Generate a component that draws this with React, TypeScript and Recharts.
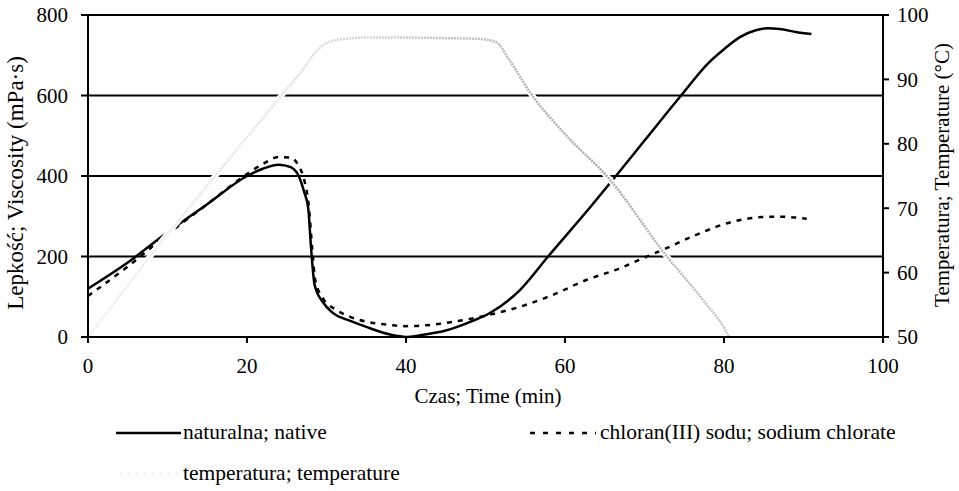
import React from "react";
import { ComposedChart, Line, XAxis, YAxis, CartesianGrid } from "recharts";

// native starch: time (min) / viscosity (mPa·s)
const nativeTime = [0, 5, 10, 15, 20, 22, 24, 25.5, 26.5, 27.2, 27.7, 28.1, 28.5, 29.6, 30.8, 33, 35, 38, 40, 41.7, 45, 48, 50.5, 54.3, 58, 63.4, 66.4, 70, 74.6, 78, 80, 82, 84, 85.5, 87, 89, 91];
const nativeVisc = [120, 185, 260, 330, 400, 418, 428, 422, 400, 360, 320, 210, 130, 85, 60, 40, 25, 6, 0, 4, 16, 37, 59, 116, 203, 328, 400, 488, 600, 680, 715, 745, 762, 767, 765, 758, 753];

// sodium chlorate
const chlorTime = [0, 5, 10, 15, 20, 22, 24, 25.5, 26.5, 27.2, 27.8, 28.2, 28.6, 29.6, 31, 33, 35, 38, 40, 43, 46, 50, 54.3, 58.4, 62.6, 66.8, 70.2, 72.7, 76.4, 81, 84.8, 86.9, 90.4];
const chlorVisc = [102, 175, 255, 330, 405, 430, 447, 446, 425, 390, 320, 220, 140, 95, 70, 50, 38, 30, 27, 30, 38, 53, 75, 104, 141, 170, 199, 220, 253, 286, 298, 299, 294];

// temperature (°C)
const tempTime = [0, 5, 10, 15, 20, 24.2, 27, 28.8, 30.8, 35, 40, 45, 49, 51.3, 53, 55.7, 60, 65.6, 72.5, 77.7, 80.2, 80.6];
const tempVal = [50, 58, 66, 73.5, 81, 87.3, 91.5, 94.5, 96, 96.5, 96.5, 96.4, 96.3, 95.8, 93, 87.8, 81.5, 74.5, 63, 55.2, 51, 50];

const timeTicks = [0, 20, 40, 60, 80, 100];
const viscTicks = [0, 200, 400, 600, 800];
const tempTicks = [50, 60, 70, 80, 90, 100];

const nativeData = nativeTime.map((t, i) => ({ t, v: nativeVisc[i] }));
const chlorData = chlorTime.map((t, i) => ({ t, v: chlorVisc[i] }));
const tempData = tempTime.map((t, i) => ({ t, v: tempVal[i] }));

const FONT = "'Liberation Serif', serif";
const tickStyle = { fill: "#000", fontSize: 21, fontFamily: FONT };

export default function App() {
  return (
    <div style={{ position: "absolute", left: 0, top: 0, width: 959, height: 491, background: "#fff", fontFamily: FONT, color: "#000" }}>
      <svg width={0} height={0} style={{ position: "absolute" }}>
        <defs>
          <linearGradient id="tempGrad" x1="0" y1="0" x2="1" y2="0">
            <stop offset="0" stopColor="#eeeeee" />
            <stop offset="0.3" stopColor="#e4e4e4" />
            <stop offset="0.55" stopColor="#c4c4c4" />
            <stop offset="0.8" stopColor="#a8a8a8" />
            <stop offset="1" stopColor="#c8c8c8" />
          </linearGradient>
        </defs>
      </svg>
      <ComposedChart
        width={959}
        height={491}
        margin={{ top: 15, right: 26, left: 27, bottom: 84 }}
      >
        <CartesianGrid yAxisId="left" vertical={false} stroke="#000" strokeWidth={2} />
        <XAxis
          type="number"
          dataKey="t"
          domain={[0, 100]}
          ticks={timeTicks}
          height={70}
          stroke="#000"
          strokeWidth={2}
          tick={tickStyle}
          tickSize={6}
          tickMargin={15}
          allowDuplicatedCategory={false}
        />
        <YAxis
          yAxisId="left"
          domain={[0, 800]}
          ticks={viscTicks}
          width={61}
          stroke="#000"
          strokeWidth={2}
          tick={tickStyle}
          tickSize={7}
          tickMargin={13}
        />
        <YAxis
          yAxisId="right"
          orientation="right"
          domain={[50, 100]}
          ticks={tempTicks}
          width={50}
          stroke="#000"
          strokeWidth={2}
          tick={tickStyle}
          tickSize={6}
          tickMargin={8}
        />
        <Line
          yAxisId="left"
          data={nativeData}
          dataKey="v"
          type="monotone"
          stroke="#000"
          strokeWidth={2.5}
          dot={false}
          isAnimationActive={false}
        />
        <Line
          yAxisId="left"
          data={chlorData}
          dataKey="v"
          type="monotone"
          stroke="#000"
          strokeWidth={2.5}
          strokeDasharray="5 6"
          dot={false}
          isAnimationActive={false}
        />
        {/* white halo: the temperature trace cuts through the black lines */}
        <Line
          yAxisId="right"
          data={tempData}
          dataKey="v"
          type="monotone"
          stroke="#fff"
          strokeWidth={6}
          dot={false}
          isAnimationActive={false}
        />
        <Line
          yAxisId="right"
          data={tempData}
          dataKey="v"
          type="monotone"
          stroke="url(#tempGrad)"
          strokeWidth={2.5}
          strokeDasharray="2 1"
          dot={false}
          isAnimationActive={false}
        />
      </ComposedChart>

      {/* axis titles */}
      <div style={{ position: "absolute", left: 488, top: 384, transform: "translateX(-50%)", fontSize: 21, whiteSpace: "nowrap" }}>
        Czas; Time (min)
      </div>
      <div style={{ position: "absolute", left: 16, top: 183, transform: "translate(-50%, -50%) rotate(-90deg)", fontSize: 23, whiteSpace: "nowrap" }}>
        Lepkość; Viscosity (mPa·s)
      </div>
      <div style={{ position: "absolute", left: 942, top: 175, transform: "translate(-50%, -50%) rotate(-90deg)", fontSize: 21, whiteSpace: "nowrap" }}>
        Temperatura; Temperature (°C)
      </div>

      {/* legend */}
      <svg style={{ position: "absolute", left: 0, top: 0 }} width={959} height={491}>
        <line x1={116} x2={181} y1={433} y2={433} stroke="#000" strokeWidth={2.5} />
        <line x1={530} x2={596} y1={433} y2={433} stroke="#000" strokeWidth={2.5} strokeDasharray="5 8" />
        <line x1={120} x2={181} y1={474} y2={474} stroke="#ececec" strokeWidth={2.5} strokeDasharray="2 6" />
      </svg>
      <div style={{ position: "absolute", left: 183, top: 420, fontSize: 21.5, whiteSpace: "nowrap" }}>naturalna; native</div>
      <div style={{ position: "absolute", left: 600, top: 420, fontSize: 21.5, whiteSpace: "nowrap" }}>chloran(III) sodu; sodium chlorate</div>
      <div style={{ position: "absolute", left: 183, top: 461, fontSize: 21.5, whiteSpace: "nowrap" }}>temperatura; temperature</div>
    </div>
  );
}
